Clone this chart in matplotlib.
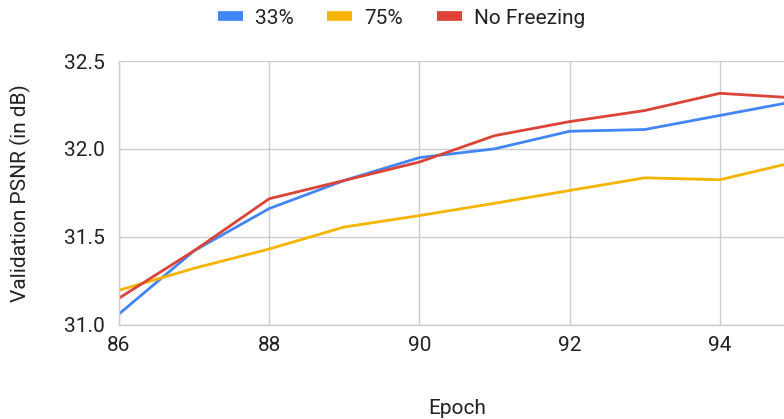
import matplotlib
matplotlib.use('Agg')
import matplotlib.pyplot as plt

plt.rcParams['font.family'] = ['Roboto', 'DejaVu Sans']

epochs = [86, 87, 88, 89, 90, 91, 92, 93, 94, 95]
psnr_33 = [31.06, 31.42, 31.66, 31.82, 31.95, 32.00, 32.10, 32.11, 32.19, 32.27]
psnr_75 = [31.195, 31.32, 31.43, 31.555, 31.62, 31.69, 31.763, 31.835, 31.824, 31.925]
psnr_nofreeze = [31.15, 31.42, 31.716, 31.82, 31.925, 32.075, 32.155, 32.218, 32.316, 32.29]
labels = ['33%', '75%', 'No Freezing']
colors = ['#4285F4', '#F4B400', '#DB4437']

fig = plt.figure(figsize=(7.84, 4.19), dpi=100)
ax = fig.add_axes([119 / 784, 1 - 324.5 / 419, (795 - 119) / 784, (324.5 - 61) / 419])

for ys, lab, c in zip([psnr_33, psnr_75, psnr_nofreeze], labels, colors):
    ax.plot(epochs, ys, color=c, lw=2.0, label=lab, solid_capstyle='butt')

ax.set_xlim(86, 95)
ax.set_ylim(31.0, 32.5)
ax.set_xticks([86, 88, 90, 92, 94])
ax.set_yticks([31.0, 31.5, 32.0, 32.5])
ax.set_yticklabels(['31.0', '31.5', '32.0', '32.5'])
ax.grid(True, color='#cccccc', lw=1.0)
ax.set_axisbelow(True)
for s in ['top', 'right']:
    ax.spines[s].set_visible(False)
for s in ['left', 'bottom']:
    ax.spines[s].set_color('#cccccc')
    ax.spines[s].set_linewidth(1.0)
ax.tick_params(length=0, labelsize=15, colors='#222222', pad=10)
ax.tick_params(axis='x', pad=8)

ax.set_xlabel('Epoch', fontsize=15, color='#222222', labelpad=32)
ax.set_ylabel('Validation PSNR (in dB)', fontsize=15, color='#222222', labelpad=24)

leg = fig.legend(loc='center', bbox_to_anchor=(0.512, 1 - 18 / 419), ncol=3, frameon=False,
                 fontsize=15, handlelength=1.2, handletextpad=0.6, columnspacing=1.6)
for h in leg.get_lines():
    h.set_linewidth(7)
for t in leg.get_texts():
    t.set_color('#222222')

fig.savefig('out.png', dpi=100)
